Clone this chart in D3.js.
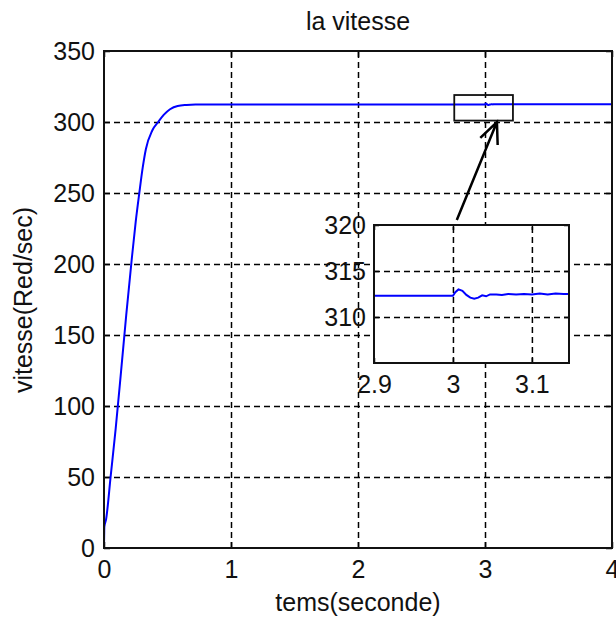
<!DOCTYPE html>
<html>
<head>
<meta charset="utf-8">
<script src="https://cdn.jsdelivr.net/npm/d3@7"></script>
<style>
    body { margin: 0; background: #fff; }
    text { font-family: "Liberation Sans", Arial, sans-serif; fill: #111; }
    .grid line { stroke: #000; stroke-width: 1.5; stroke-dasharray: 6 4; }
    .grid path { display: none; }
    .axis path { display: none; }
    .axis line { stroke: #000; stroke-width: 1.5; }
</style>
</head>
<body>
<script>
// Step response: time (s) and speed (rad/s)
const riseTime  = [0, 0.003, 0.016, 0.053, 0.092, 0.134, 0.175, 0.218, 0.25, 0.278, 0.305, 0.33, 0.38, 0.427, 0.47, 0.52, 0.58, 0.65, 0.72, 0.8];
const riseSpeed = [0, 15, 20, 51, 84, 124, 164, 203, 230, 250, 268, 281, 294, 300, 305, 309, 311.3, 312, 312.3, 312.3];

// Detail around the load step at t = 3 s (shown in the zoom box)
const zoomTime  = [2.9, 3.0, 3.003, 3.007, 3.012, 3.017, 3.022, 3.027, 3.032, 3.037, 3.042, 3.047, 3.055, 3.062, 3.07, 3.08, 3.09, 3.1, 3.11, 3.12, 3.13, 3.14, 3.15];
const zoomSpeed = [312.3, 312.3, 312.7, 313.0, 312.85, 312.4, 312.1, 312.0, 312.1, 312.35, 312.25, 312.45, 312.45, 312.4, 312.5, 312.45, 312.5, 312.45, 312.55, 312.45, 312.55, 312.5, 312.5];

const endTime = [4];
const endSpeed = [312.5];

// Axis ticks
const xTicks = [0, 1, 2, 3, 4];
const yTicks = [0, 50, 100, 150, 200, 250, 300, 350];
const zoomXTicks = [2.9, 3, 3.1];
const zoomYTicks = [310, 315, 320];

// Zoom box drawn on the main plot and the arrow pointing at it (data units)
const boxTime = [2.758, 3.22];
const boxSpeed = [301, 319];
const arrowTime = [2.778, 3.094];
const arrowSpeed = [231, 300];

const mainData = riseTime.map((t, i) => ({ t: t, v: riseSpeed[i] }))
    .concat(zoomTime.map((t, i) => ({ t: t, v: zoomSpeed[i] })))
    .concat(endTime.map((t, i) => ({ t: t, v: endSpeed[i] })));
const zoomData = zoomTime.map((t, i) => ({ t: t, v: zoomSpeed[i] }));

const W = 616, H = 621;
const fontSize = 25;

const svg = d3.select("body").append("svg")
    .attr("width", W)
    .attr("height", H);

// Main plot scales
const x = d3.scaleLinear().domain([0, 4]).range([104, 612]);
const y = d3.scaleLinear().domain([0, 350]).range([548, 51]);

// Grid lines
svg.append("g")
    .attr("class", "grid")
    .attr("transform", "translate(0,548)")
    .call(d3.axisBottom(x).tickValues(xTicks.slice(1, -1)).tickSize(-(548 - 51)).tickFormat(""));
svg.append("g")
    .attr("class", "grid")
    .attr("transform", "translate(104,0)")
    .call(d3.axisLeft(y).tickValues(yTicks.slice(1, -1)).tickSize(-(612 - 104)).tickFormat(""));

// Axes with inward ticks
svg.append("g")
    .attr("class", "axis")
    .attr("transform", "translate(0,548)")
    .call(d3.axisBottom(x).tickValues(xTicks).tickSizeInner(-6).tickSizeOuter(0).tickPadding(12).tickFormat(d3.format("d")))
    .selectAll("text").style("font-size", fontSize + "px").attr("fill", "#111");
svg.append("g")
    .attr("class", "axis")
    .attr("transform", "translate(104,0)")
    .call(d3.axisLeft(y).tickValues(yTicks).tickSizeInner(-6).tickSizeOuter(0).tickPadding(9).tickFormat(d3.format("d")))
    .selectAll("text").style("font-size", fontSize + "px").attr("fill", "#111");
svg.append("g")
    .attr("class", "axis")
    .attr("transform", "translate(0,51)")
    .call(d3.axisTop(x).tickValues(xTicks).tickSizeInner(-6).tickSizeOuter(0).tickFormat(""));
svg.append("g")
    .attr("class", "axis")
    .attr("transform", "translate(612,0)")
    .call(d3.axisRight(y).tickValues(yTicks).tickSizeInner(-6).tickSizeOuter(0).tickFormat(""));

// Speed curve
const line = d3.line()
    .curve(d3.curveMonotoneX)
    .x(d => x(d.t))
    .y(d => y(d.v));

svg.append("path")
    .datum(mainData)
    .attr("fill", "none")
    .attr("stroke", "#0000ff")
    .attr("stroke-width", 2)
    .attr("d", line);

// Frame
svg.append("rect")
    .attr("x", 104).attr("y", 51)
    .attr("width", 612 - 104).attr("height", 548 - 51)
    .attr("fill", "none")
    .attr("stroke", "#111")
    .attr("stroke-width", 2);

// Zoom rectangle on the curve
svg.append("rect")
    .attr("x", x(boxTime[0]))
    .attr("y", y(boxSpeed[1]))
    .attr("width", x(boxTime[1]) - x(boxTime[0]))
    .attr("height", y(boxSpeed[0]) - y(boxSpeed[1]))
    .attr("fill", "none")
    .attr("stroke", "#111")
    .attr("stroke-width", 1.8);

// Arrow from inset to zoom rectangle
const ax0 = x(arrowTime[0]), ay0 = y(arrowSpeed[0]);
const ax1 = x(arrowTime[1]), ay1 = y(arrowSpeed[1]);
const ang = Math.atan2(ay1 - ay0, ax1 - ax0);
const barb = 23, spread = 0.42;
const arrowPath = d3.path();
arrowPath.moveTo(ax0, ay0);
arrowPath.lineTo(ax1, ay1);
arrowPath.moveTo(ax1 + barb * Math.cos(ang + Math.PI - spread), ay1 + barb * Math.sin(ang + Math.PI - spread));
arrowPath.lineTo(ax1, ay1);
arrowPath.lineTo(ax1 + barb * Math.cos(ang + Math.PI + spread), ay1 + barb * Math.sin(ang + Math.PI + spread));
svg.append("path")
    .attr("d", arrowPath.toString())
    .attr("fill", "none")
    .attr("stroke", "#000")
    .attr("stroke-width", 2.5);

// Inset
const zx = d3.scaleLinear().domain([2.9, 3.147]).range([374, 569]);
const zy = d3.scaleLinear().domain([305, 320]).range([363, 225]);

const inset = svg.append("g");

inset.append("rect")
    .attr("x", 374).attr("y", 225)
    .attr("width", 569 - 374).attr("height", 363 - 225)
    .attr("fill", "#fff");

inset.append("g")
    .attr("class", "grid")
    .attr("transform", "translate(0,363)")
    .call(d3.axisBottom(zx).tickValues(zoomXTicks.slice(1)).tickSize(-(363 - 225)).tickFormat(""));
inset.append("g")
    .attr("class", "grid")
    .attr("transform", "translate(374,0)")
    .call(d3.axisLeft(zy).tickValues(zoomYTicks.slice(0, -1)).tickSize(-(569 - 374)).tickFormat(""));

inset.append("g")
    .attr("class", "axis")
    .attr("transform", "translate(0,363)")
    .call(d3.axisBottom(zx).tickValues(zoomXTicks).tickSizeInner(-5).tickSizeOuter(0).tickPadding(12).tickFormat(d3.format("")))
    .selectAll("text").style("font-size", fontSize + "px").attr("fill", "#111");
inset.append("g")
    .attr("class", "axis")
    .attr("transform", "translate(374,0)")
    .call(d3.axisLeft(zy).tickValues(zoomYTicks).tickSizeInner(-5).tickSizeOuter(0).tickPadding(8).tickFormat(d3.format("d")))
    .selectAll("text").style("font-size", fontSize + "px").attr("fill", "#111");
inset.append("g")
    .attr("class", "axis")
    .attr("transform", "translate(0,225)")
    .call(d3.axisTop(zx).tickValues(zoomXTicks).tickSizeInner(-5).tickSizeOuter(0).tickFormat(""));
inset.append("g")
    .attr("class", "axis")
    .attr("transform", "translate(569,0)")
    .call(d3.axisRight(zy).tickValues(zoomYTicks).tickSizeInner(-5).tickSizeOuter(0).tickFormat(""));

inset.append("clipPath")
    .attr("id", "zoom-clip")
    .append("rect")
    .attr("x", 374).attr("y", 225)
    .attr("width", 569 - 374).attr("height", 363 - 225);

const zline = d3.line()
    .x(d => zx(d.t))
    .y(d => zy(d.v));

inset.append("path")
    .datum(zoomData)
    .attr("clip-path", "url(#zoom-clip)")
    .attr("fill", "none")
    .attr("stroke", "#0000ff")
    .attr("stroke-width", 2)
    .attr("d", zline);

inset.append("rect")
    .attr("x", 374).attr("y", 225)
    .attr("width", 569 - 374).attr("height", 363 - 225)
    .attr("fill", "none")
    .attr("stroke", "#111")
    .attr("stroke-width", 2);

// Titles
svg.append("text")
    .attr("x", 358).attr("y", 30)
    .attr("text-anchor", "middle")
    .style("font-size", fontSize + "px")
    .text("la vitesse");

svg.append("text")
    .attr("x", 358).attr("y", 611)
    .attr("text-anchor", "middle")
    .style("font-size", fontSize + "px")
    .text("tems(seconde)");

svg.append("text")
    .attr("transform", "translate(32,300) rotate(-90)")
    .attr("text-anchor", "middle")
    .style("font-size", fontSize + "px")
    .text("vitesse(Red/sec)");
</script>
</body>
</html>
